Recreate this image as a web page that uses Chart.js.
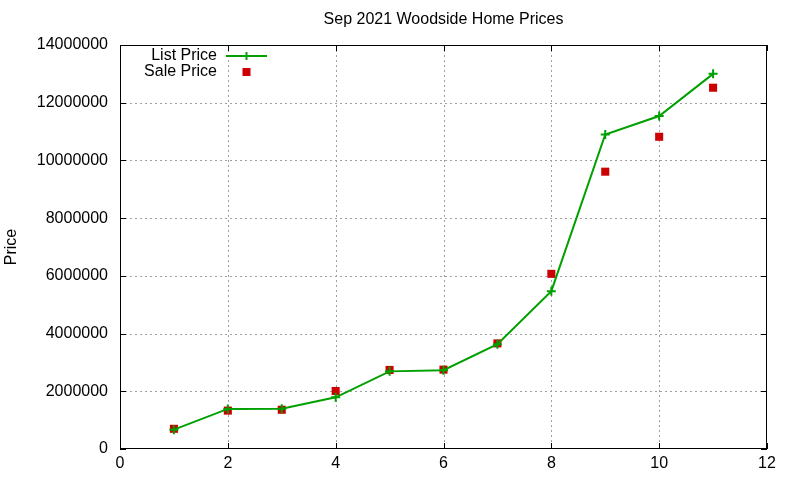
<!DOCTYPE html>
<html>
<head>
<meta charset="utf-8">
<title>Sep 2021 Woodside Home Prices</title>
<script src="https://cdn.jsdelivr.net/npm/chart.js@4.4.0/dist/chart.umd.min.js"></script>
<style>
  html, body { margin: 0; padding: 0; background: #fff; }
  #wrap { width: 800px; height: 480px; }
</style>
</head>
<body>
<div id="wrap"><canvas id="priceChart" width="800" height="480"></canvas></div>
<script>
// month index (x) and prices
const homeIndex = [1, 2, 3, 4, 5, 6, 7, 8, 9, 10, 11];
const listPrice = [670000, 1390000, 1395000, 1790000, 2690000, 2730000, 3630000, 5470000, 10900000, 11540000, 13000000];
const salePrice = [700000, 1330000, 1360000, 2010000, 2740000, 2750000, 3660000, 6070000, 9610000, 10820000, 12520000];
const seriesNames = ["List Price", "Sale Price"];
const chartTitle = "Sep 2021 Woodside Home Prices";

const GREEN = "#00a000";
const RED = "#cc0000";
const FONT = "'Liberation Sans', Arial, sans-serif";

function toPoints(xs, ys) {
    return xs.map((x, i) => ({ x: x, y: ys[i] }));
}

// dotted grid under the data
const gridPlugin = {
    id: "dottedGrid",
    beforeDatasetsDraw(chart) {
        const ctx = chart.ctx;
        const area = chart.chartArea;
        const xs = chart.scales.x;
        const ys = chart.scales.y;
        ctx.save();
        ctx.strokeStyle = "#a0a0a0";
        ctx.lineWidth = 1;
        ctx.setLineDash([2, 3]);
        ctx.beginPath();
        xs.ticks.forEach(t => {
            const px = Math.round(xs.getPixelForValue(t.value)) + 0.5;
            if (px <= area.left + 1 || px >= area.right - 1) return;
            ctx.moveTo(px, area.top);
            ctx.lineTo(px, area.bottom);
        });
        ys.ticks.forEach(t => {
            const py = Math.round(ys.getPixelForValue(t.value)) + 0.5;
            if (py <= area.top + 1 || py >= area.bottom - 1) return;
            ctx.moveTo(area.left, py);
            ctx.lineTo(area.right, py);
        });
        ctx.stroke();
        ctx.restore();
    }
};

// gnuplot-ish frame: full border, inward ticks on all four sides, title and key
const framePlugin = {
    id: "frame",
    afterDraw(chart) {
        const ctx = chart.ctx;
        const area = chart.chartArea;
        const xs = chart.scales.x;
        const ys = chart.scales.y;
        const tl = 6;

        ctx.save();
        ctx.strokeStyle = "#000";
        ctx.lineWidth = 1;
        ctx.setLineDash([]);
        ctx.strokeRect(area.left + 0.5, area.top + 0.5, area.right - area.left - 1, area.bottom - area.top - 1);

        ctx.beginPath();
        xs.ticks.forEach(t => {
            const px = Math.round(xs.getPixelForValue(t.value)) + 0.5;
            ctx.moveTo(px, area.bottom);
            ctx.lineTo(px, area.bottom - tl);
            ctx.moveTo(px, area.top);
            ctx.lineTo(px, area.top + tl);
        });
        ys.ticks.forEach(t => {
            const py = Math.round(ys.getPixelForValue(t.value)) + 0.5;
            ctx.moveTo(area.left, py);
            ctx.lineTo(area.left + tl, py);
            ctx.moveTo(area.right, py);
            ctx.lineTo(area.right - tl, py);
        });
        ctx.stroke();

        // title, centred over the plot box
        ctx.font = "16px " + FONT;
        ctx.fillStyle = "#000";
        ctx.textAlign = "center";
        ctx.textBaseline = "middle";
        ctx.fillText(chartTitle, (area.left + area.right) / 2, 20);

        // key
        ctx.textAlign = "right";
        const textX = area.left + 97;
        const sampleL = area.left + 106;
        const sampleR = area.left + 147;
        const sampleC = (sampleL + sampleR) / 2;
        const row1 = area.top + 11;
        const row2 = area.top + 27;

        ctx.fillText(seriesNames[0], textX, row1);
        ctx.fillText(seriesNames[1], textX, row2);

        ctx.strokeStyle = GREEN;
        ctx.lineWidth = 2;
        ctx.beginPath();
        ctx.moveTo(sampleL, row1);
        ctx.lineTo(sampleR, row1);
        ctx.moveTo(sampleC, row1 - 4);
        ctx.lineTo(sampleC, row1 + 4);
        ctx.stroke();

        ctx.fillStyle = RED;
        ctx.fillRect(sampleC - 4, row2 - 4, 8, 8);
        ctx.restore();
    }
};

const ctx = document.getElementById("priceChart").getContext("2d");

new Chart(ctx, {
    type: "line",
    data: {
        datasets: [{
            label: seriesNames[0],
            data: toPoints(homeIndex, listPrice),
            borderColor: GREEN,
            backgroundColor: GREEN,
            borderWidth: 2,
            tension: 0,
            fill: false,
            pointStyle: "cross",
            pointRadius: 4.5,
            pointBorderWidth: 2,
            pointBorderColor: GREEN
        }, {
            label: seriesNames[1],
            data: toPoints(homeIndex, salePrice),
            showLine: false,
            borderColor: RED,
            backgroundColor: RED,
            pointStyle: "rect",
            pointRadius: 5.7,
            pointBorderWidth: 0
        }]
    },
    options: {
        responsive: false,
        animation: false,
        events: [],
        layout: { padding: { left: 0, right: 33, top: 45, bottom: 0 } },
        plugins: {
            legend: { display: false },
            tooltip: { enabled: false },
            title: { display: false }
        },
        scales: {
            x: {
                type: "linear",
                min: 0,
                max: 12,
                ticks: {
                    stepSize: 2,
                    color: "#000",
                    padding: 5,
                    maxRotation: 0,
                    font: { family: FONT, size: 16 }
                },
                grid: { display: false, drawTicks: false },
                border: { display: false },
                afterFit(scale) { scale.height = 31; }
            },
            y: {
                type: "linear",
                min: 0,
                max: 14000000,
                ticks: {
                    stepSize: 2000000,
                    color: "#000",
                    padding: 12,
                    font: { family: FONT, size: 16 },
                    callback: v => String(v)
                },
                grid: { display: false, drawTicks: false },
                border: { display: false },
                title: {
                    display: true,
                    text: "Price",
                    color: "#000",
                    font: { family: FONT, size: 16 },
                    padding: { top: 2, bottom: 0 }
                },
                afterFit(scale) { scale.width = 120; }
            }
        }
    },
    plugins: [gridPlugin, framePlugin]
});
</script>
</body>
</html>
